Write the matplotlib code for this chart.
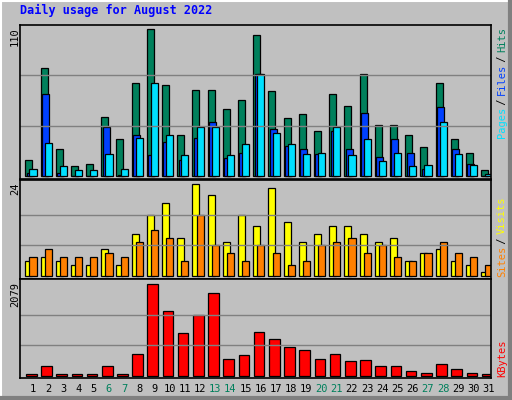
import matplotlib
matplotlib.use('Agg')
import matplotlib.pyplot as plt
import numpy as np

days = np.arange(1, 32)
hits = [12, 79, 20, 7, 9, 43, 27, 68, 107, 66, 30, 63, 63, 49, 55, 103,
        62, 42, 45, 33, 60, 51, 74, 37, 37, 30, 21, 68, 27, 17, 4]
files = [2, 60, 2, 0, 0, 36, 1, 30, 15, 25, 12, 28, 39, 13, 17, 74,
         34, 22, 20, 16, 33, 20, 46, 14, 27, 17, 5, 50, 20, 9, 0]
pages = [5, 24, 7, 4, 4, 16, 5, 28, 68, 30, 15, 36, 36, 15, 23, 74,
         31, 23, 16, 17, 36, 15, 27, 11, 17, 7, 8, 39, 16, 8, 1.5]
visits = [4, 5, 4, 3, 3, 7, 3, 11, 16, 19, 10, 24, 21, 9, 16, 13,
          23, 14, 9, 11, 13, 13, 11, 9, 10, 4, 6, 7, 4, 3, 1]
sites = [5, 7, 5, 5, 5, 6, 5, 9, 12, 10, 4, 16, 8, 6, 4, 8,
         6, 3, 4, 8, 9, 10, 6, 8, 5, 4, 6, 9, 6, 5, 3]
kbytes = [30, 212, 30, 30, 30, 212, 30, 486, 2079, 1464, 964, 1373, 1874, 372, 463, 986,
          827, 645, 577, 372, 486, 326, 349, 212, 212, 99, 53, 258, 144, 53, 30]
weekends = [6, 7, 13, 14, 20, 21, 27, 28]

W, H = 512, 400
fig = plt.figure(figsize=(W / 100, H / 100), dpi=100, facecolor='#C0C0C0')
mono = 'DejaVu Sans Mono'

# bevel border
fig.add_artist(plt.Line2D([0, 1], [1 - 1 / H, 1 - 1 / H], color='white', lw=1.5))
fig.add_artist(plt.Line2D([1 / W, 1 / W], [0, 1], color='white', lw=1.5))
fig.add_artist(plt.Line2D([1 - 2 / W, 1 - 2 / W], [0, 1], color='#808080', lw=3))
fig.add_artist(plt.Line2D([0, 1], [2 / H, 2 / H], color='#808080', lw=3))


def mkax(top, bottom):
    ax = fig.add_axes([20 / W, 1 - bottom / H, 471 / W, (bottom - top) / H])
    ax.set_facecolor('#C0C0C0')
    ax.set_xlim(0.5, 31.5)
    ax.set_xticks([])
    ax.set_yticks([])
    for s in ax.spines.values():
        s.set_linewidth(1.2)
    return ax


def bar(ax, x, h, w, c):
    ax.bar(x, h, width=w, align='edge', color=c, edgecolor='black', linewidth=0.9)


# top panel: hits / files / pages
ax1 = mkax(25, 179)
ax1.set_ylim(-2.2, 110)
for g in (36.7, 73.3):
    ax1.axhline(g, color='#808080', lw=1)
bar(ax1, days - 0.15, hits, 0.46, '#00805C')
bar(ax1, days - 0.06, files, 0.46, '#0040FF')
bar(ax1, days + 0.12, pages, 0.47, '#00E0FF')

# middle panel: visits / sites
ax2 = mkax(180, 279)
ax2.set_ylim(-0.78, 25.04)
for g in (8, 16):
    ax2.axhline(g, color='#808080', lw=1)
bar(ax2, days - 0.15, visits, 0.46, '#FFFF00')
bar(ax2, days + 0.12, sites, 0.47, '#FF8000')

# bottom panel: kbytes
ax3 = mkax(279, 378)
ax3.set_ylim(-52, 2200)
for g in (693, 1386):
    ax3.axhline(g, color='#808080', lw=1)
bar(ax3, days - 0.11, kbytes, 0.7, '#FF0000')

# day labels
for d in days:
    c = '#00805C' if d in weekends else 'black'
    ax3.text(d + 0.35, -0.06, str(d), transform=ax3.get_xaxis_transform(),
             ha='center', va='top', fontsize=7.5, color=c, family=mono)

fig.text(20 / W, 1 - 17 / H, 'Daily usage for August 2022', color='#0000FF',
         fontsize=8.5, fontweight='bold', family=mono, va='bottom')

for txt, y in (('110', 27), ('24', 182), ('2079', 282)):
    fig.text(10 / W, 1 - y / H, txt, rotation=90, ha='left', va='top',
             fontsize=7.5, family=mono)


def side_label(parts, y_bottom):
    y = y_bottom
    for txt, c in parts:
        fig.text(497 / W, 1 - y / H, txt, rotation=90, ha='left', va='bottom',
                 fontsize=7.5, family=mono, color=c)
        y -= len(txt) * 5.4


side_label([('Pages', '#00E0FF'), (' / ', 'black'), ('Files', '#0040FF'),
            (' / ', 'black'), ('Hits', '#00805C')], 138)
side_label([('Sites', '#FF8000'), (' / ', 'black'), ('Visits', '#FFFF00')], 277)
side_label([('KBytes', '#FF0000')], 377)

fig.savefig('out.png', dpi=100, facecolor='#C0C0C0')
